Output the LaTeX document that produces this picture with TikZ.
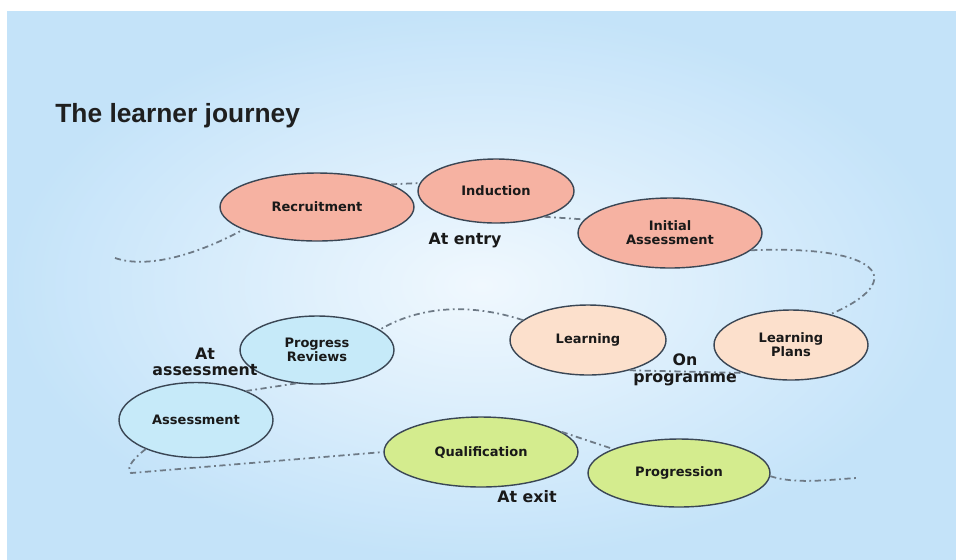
\documentclass[tikz,border=0pt]{standalone}
\usepackage{fontspec}
\setmainfont{DejaVu Sans}
\newfontfamily\titlefont{Liberation Sans}
\usepackage{xcolor}
\usetikzlibrary{shapes.geometric}

\definecolor{bgin}{RGB}{240,248,254}
\definecolor{bgout}{RGB}{196,227,249}
\definecolor{entryfill}{RGB}{246,178,162}
\definecolor{progfill}{RGB}{252,224,204}
\definecolor{assessfill}{RGB}{198,234,249}
\definecolor{exitfill}{RGB}{212,236,142}
\definecolor{rim}{RGB}{58,70,84}
\definecolor{trail}{RGB}{110,122,134}

\begin{document}
\begin{tikzpicture}[x=0.02cm, y=-0.02cm,
    stage/.style={ellipse, draw=rim, line width=0.8pt, inner sep=0pt,
                  align=center, text=black!90, font=\bfseries\fontsize{7.4}{7.9}\selectfont},
    entry stage/.style={stage, fill=entryfill},
    prog stage/.style={stage, fill=progfill},
    assess stage/.style={stage, fill=assessfill},
    exit stage/.style={stage, fill=exitfill},
    phase/.style={align=center, text=black!90, font=\bfseries\fontsize{9}{9.4}\selectfont},
    journey/.style={draw=trail, line width=1pt,
                    dash pattern=on 3.5pt off 2pt on 1pt off 2pt}]

  % frame and backdrop
  \useasboundingbox (0,0) rectangle (956,559);
  \fill[white] (0,0) rectangle (956,559);
  \fill[inner color=bgin, outer color=bgout] (7,11) rectangle (956,559);

  \node[anchor=west, inner sep=0pt, font=\titlefont\bfseries\fontsize{15}{15}\selectfont, text=black!88]
    (title) at (55,116) {The learner journey};

  % at entry
  \node[entry stage, minimum width=3.88cm, minimum height=1.36cm] (rec) at (317,207) {Recruitment};
  \node[entry stage, minimum width=3.12cm, minimum height=1.28cm] (ind) at (496,191) {Induction};
  \node[entry stage, minimum width=3.68cm, minimum height=1.40cm] (ia) at (670,233) {Initial\\Assessment};

  % on programme
  \node[prog stage, minimum width=3.12cm, minimum height=1.40cm] (lrn) at (588,340) {Learning};
  \node[prog stage, minimum width=3.08cm, minimum height=1.40cm] (lp) at (791,345) {Learning\\Plans};

  % at assessment
  \node[assess stage, minimum width=3.08cm, minimum height=1.36cm] (pr) at (317,350) {Progress\\Reviews};
  \node[assess stage, minimum width=3.08cm, minimum height=1.50cm] (as) at (196,420) {Assessment};

  % at exit
  \node[exit stage, minimum width=3.88cm, minimum height=1.40cm] (qual) at (481,452) {Qualification};
  \node[exit stage, minimum width=3.64cm, minimum height=1.36cm] (prg) at (679,473) {Progression};

  \coordinate (start) at (115,258);
  \coordinate (corner) at (131,473);
  \coordinate (finish) at (856,478);

  \path[journey]
    (start) .. controls +(35,12) and +(-40,22) .. (rec.197)
    (rec.17) -- (ind.174)
    (ind.-28) -- (ia.171)
    (ia.-12) .. controls (880,245) and (910,280) .. (lp.38)
    (lrn.-36) -- (lp.-150)
    (lrn.163) .. controls (470,303) and (420,306) .. (pr.18)
    (pr.238) -- (as.30)
    (as.210) .. controls +(-10,8) and +(-6,-6) .. (corner) -- (qual.180)
    (qual.14) -- (prg.160)
    (prg.-2) .. controls +(25,8) and +(-30,2) .. (finish);

  \node[phase] (entry) at (465,240) {At entry};
  \node[phase] (onprog) at (685,370) {On\\programme};
  \node[phase] (atassess) at (205,362) {At\\assessment};
  \node[phase] (atexit) at (527,497) {At exit};
\end{tikzpicture}
\end{document}
